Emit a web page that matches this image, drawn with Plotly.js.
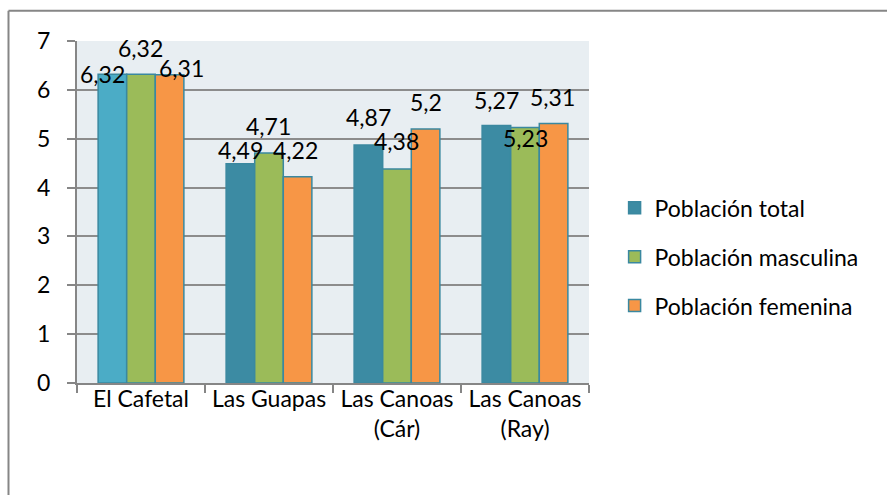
<!DOCTYPE html>
<html>
<head>
<meta charset="utf-8">
<script src="https://cdn.plot.ly/plotly-3.0.1.min.js"></script>
<style>html,body{margin:0;padding:0;background:#fff;}#chart{width:887px;height:495px;}</style>
</head>
<body>
<div id="chart"></div>
<script>
// ---- data ----
var categories = ["El Cafetal", "Las Guapas", "Las Canoas<br>(Cár)", "Las Canoas<br>(Ray)"];
var seriesNames = ["Población total", "Población masculina", "Población femenina"];
var total = [6.32, 4.49, 4.87, 5.27];
var masculina = [6.32, 4.71, 4.38, 5.23];
var femenina = [6.31, 4.22, 5.2, 5.31];
var yTicks = [0, 1, 2, 3, 4, 5, 6, 7];

// ---- style ----
var FONT = "Lato, 'Open Sans', sans-serif";
var colors = ["#3C8BA3", "#9BBB59", "#F79646"];
var outline = "#3A88A0";
var bargap = 0.33;
// label offsets in px (dx, dy up) relative to bar top, Excel-style jitter
var labelShift = [
  [[-10, 0], [0, 14], [0, 28], [0, 26]],
  [[-1, 26], [-1, 27], [-1, 28], [0, -11]],
  [[12, 7], [-2, 27], [0, 27], [-1, 27]]
];

var series = [total, masculina, femenina];
var traces = series.map(function (vals, s) {
  var marker = {color: colors[s], line: {color: outline, width: 1.5}};
  if (s === 0) {
    // first group's total bar is drawn lighter, legend keeps dark tone
    marker = {
      color: vals.map(function (v, i) { return i === 0 ? 0 : 1; }),
      colorscale: [[0, "#4BACC6"], [0.5, colors[0]], [1, colors[0]]],
      cmin: 0, cmax: 1, showscale: false,
      line: {color: outline, width: 1.5}
    };
  }
  return {
    type: "bar", name: seriesNames[s], x: categories, y: vals,
    marker: marker, legendgroup: "g" + s, hoverinfo: "skip"
  };
});

var barW = (1 - bargap) / 3;
var annotations = [];
series.forEach(function (vals, s) {
  vals.forEach(function (v, i) {
    annotations.push({
      x: i + (s - 1) * barW, y: v, xref: "x", yref: "y",
      text: String(v).replace(".", ","), showarrow: false,
      xanchor: "center", yanchor: "middle",
      xshift: labelShift[s][i][0], yshift: labelShift[s][i][1],
      font: {family: FONT, size: 23, color: "#000"}
    });
  });
});

var layout = {
  width: 887, height: 495,
  margin: {l: 77, r: 298, t: 41, b: 112},
  paper_bgcolor: "#fff", plot_bgcolor: "#E8EEF2",
  barmode: "group", bargap: bargap, bargroupgap: 0,
  font: {family: FONT, size: 23, color: "#000"},
  showlegend: true,
  legend: {x: 1.05, xanchor: "left", y: 0.575, yanchor: "top",
           font: {family: FONT, size: 23, color: "#000"},
           tracegroupgap: 16, traceorder: "grouped", bgcolor: "rgba(0,0,0,0)"},
  xaxis: {type: "category", tickson: "boundaries", ticks: "outside", ticklen: 8,
          tickcolor: "#868686", tickwidth: 2, showline: true, linecolor: "#868686", linewidth: 2,
          showgrid: false, tickfont: {family: FONT, size: 23, color: "#000"},
          ticklabelstandoff: -6, fixedrange: true},
  yaxis: {range: [0, 7], tickvals: yTicks, ticks: "outside", ticklen: 8,
          tickcolor: "#868686", tickwidth: 2, showline: true, linecolor: "#868686", linewidth: 2,
          showgrid: true, gridcolor: "#8C8C8C", gridwidth: 2, zeroline: false,
          tickfont: {family: FONT, size: 23, color: "#000"}, ticklabelstandoff: 12, fixedrange: true},
  annotations: annotations,
  shapes: [
    {type: "line", xref: "paper", yref: "paper", x0: -0.1338, x1: 1.6, y0: 1.0886, y1: 1.0886,
     line: {color: "#868686", width: 2}},
    {type: "line", xref: "paper", yref: "paper", x0: -0.1338, x1: -0.1338, y0: 1.0886, y1: -0.35,
     line: {color: "#868686", width: 2}}
  ]
};

Plotly.newPlot("chart", traces, layout, {displayModeBar: false, staticPlot: true});
</script>
</body>
</html>
